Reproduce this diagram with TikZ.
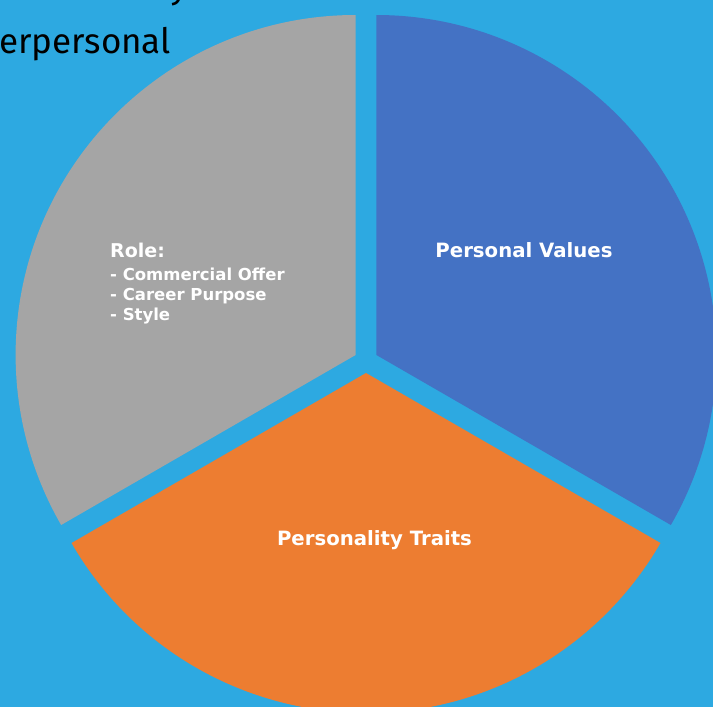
\documentclass[tikz,border=0pt]{standalone}
\usepackage{fontspec}
\usepackage{xcolor}
\usetikzlibrary{calc}

\newfontfamily\titlefont{Fira Sans}
\newfontfamily\slicefont{DejaVu Sans}

\definecolor{skyback}{HTML}{2DA9E1}
\definecolor{slicegray}{HTML}{A5A5A5}
\definecolor{sliceblue}{HTML}{4472C4}
\definecolor{sliceorange}{HTML}{ED7D31}

\begin{document}
\begin{tikzpicture}[
  x=1pt, y=1pt,
  title/.style    = {inner sep=0pt, anchor=base west, text=black,
                     font=\titlefont\fontsize{35}{40}\selectfont},
  slicelbl/.style = {inner sep=0pt, text=white,
                     font=\slicefont\bfseries\fontsize{19.7}{23}\selectfont},
  rolelbl/.style  = {slicelbl, align=left, anchor=north west,
                     font=\slicefont\bfseries\fontsize{16.5}{20}\selectfont}
]
\def\rad{340}
\def\gap{12}

%%% ---- BACKGROUND ----
\clip (0,0) rectangle (713,-707);
\fill[skyback] (0,0) rectangle (713,-707);

%%% ---- HEADING (runs off the top left) ----
\node[title] (headtail) at (170,2)   {y};
\node[title] (heading)  at (-1,-53)  {erpersonal};

%%% ---- PIE, each slice pulled out along its middle ----
\coordinate (ctr) at (366,-361);

\fill[slicegray]   ($(ctr)+(150:\gap)$) coordinate (pgray)
  -- ++(90:\rad)  arc[start angle=90,  end angle=210, radius=\rad] -- cycle;
\fill[sliceblue]   ($(ctr)+(30:\gap)$)  coordinate (pblue)
  -- ++(-30:\rad) arc[start angle=-30, end angle=90,  radius=\rad] -- cycle;
\fill[sliceorange] ($(ctr)+(270:\gap)$) coordinate (porange)
  -- ++(210:\rad) arc[start angle=210, end angle=330, radius=\rad] -- cycle;

%%% ---- SLICE LABELS ----
\node[slicelbl] (values) at (524,-250)   {Personal Values};
\node[slicelbl] (traits) at (374.5,-540) {Personality Traits};
\node[rolelbl]  (role)   at (110,-243)
  {{\fontsize{19}{20}\selectfont Role:}\\[3pt]- Commercial Offer\\- Career Purpose\\- Style};
\end{tikzpicture}
\end{document}
